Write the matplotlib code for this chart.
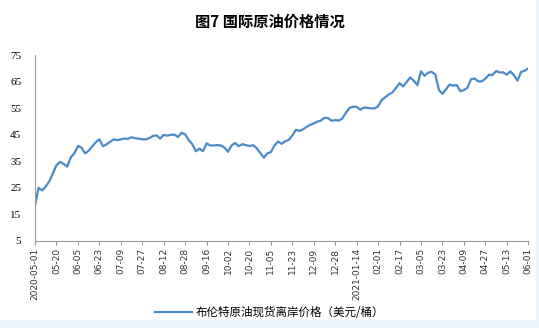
import numpy as np
import matplotlib.pyplot as plt
from matplotlib.patches import Rectangle

plt.rcParams['font.family'] = ['Noto Sans CJK SC', 'DejaVu Sans']

# tick labels (every 12 trading days)
tick_labels = ["2020-05-01", "05-20", "06-05", "06-23", "07-09", "07-27", "08-12",
               "08-28", "09-16", "10-02", "10-20", "11-05", "11-23", "12-09",
               "12-28", "2021-01-14", "02-01", "02-17", "03-05", "03-23", "04-09",
               "04-27", "05-13", "06-01"]

# Brent spot price, sampled every 2 trading days
brent = [
    18.5, 25.0, 24.0, 25.5, 27.5, 30.5,
    33.5, 34.8, 34.0, 33.0, 36.5, 38.0,
    40.8, 40.2, 38.0, 39.0, 40.6, 42.2,
    43.3, 40.7, 41.4, 42.4, 43.3, 43.0,
    43.3, 43.6, 43.5, 44.1, 43.7, 43.6,
    43.3, 43.3, 43.8, 44.6, 44.8, 43.6,
    45.0, 44.7, 45.0, 45.1, 44.2, 45.8,
    45.2, 43.0, 41.5, 38.8, 39.8, 38.8,
    41.8, 41.0, 41.0, 41.1, 41.0, 40.2,
    38.6, 41.0, 41.9, 40.7, 41.5, 41.1,
    40.8, 41.1, 40.0, 38.2, 36.4, 38.0,
    38.5, 41.0, 42.5, 41.6, 42.6, 43.1,
    44.8, 46.9, 46.5, 47.1, 48.0, 48.8,
    49.3, 50.0, 50.4, 51.5, 51.3, 50.3,
    50.6, 50.4, 51.2, 53.4, 55.2, 55.6,
    55.6, 54.5, 55.3, 55.2, 55.0, 55.0,
    55.8, 58.2, 59.2, 60.3, 61.0, 62.7,
    64.5, 63.3, 65.0, 66.7, 65.4, 63.8,
    69.0, 67.3, 68.5, 68.8, 67.8, 62.0,
    60.5, 62.2, 64.0, 63.6, 63.8, 61.5,
    61.9, 62.8, 66.0, 66.3, 65.2, 65.2,
    66.2, 67.7, 67.6, 69.1, 68.6, 68.6,
    67.7, 69.0, 67.5, 65.5, 68.8, 69.2,
    70.1,
]

x = np.arange(len(brent)) * 2
tick_pos = np.arange(len(tick_labels)) * 12

fig = plt.figure(figsize=(5.39, 3.28), dpi=100)
ax = fig.add_axes([0.065, 0.266, 0.915, 0.565])

ax.plot(x, brent, color="#4a8ac9", linewidth=1.6,
        label="布伦特原油现货离岸价格（美元/桶）")

ax.set_xlim(0, tick_pos[-1])
ax.set_ylim(5, 75)
ax.set_yticks(range(5, 80, 10))
ax.set_xticks(tick_pos)
ax.set_xticklabels(tick_labels, rotation=90, fontsize=6.5, color="#333333",
                   family="DejaVu Sans")
for lbl in ax.get_yticklabels():
    lbl.set_family("Liberation Serif")
    lbl.set_fontsize(8)

ax.tick_params(axis="y", length=0, pad=10)
ax.tick_params(axis="x", length=3, color="#999999", pad=2)
for s in ["top", "right"]:
    ax.spines[s].set_visible(False)
for s in ["left", "bottom"]:
    ax.spines[s].set_color("#999999")
    ax.spines[s].set_linewidth(0.8)

fig.text(0.5, 0.935, "图7 国际原油价格情况", ha="center", va="center",
         fontsize=11, fontweight="bold")

fig.legend(loc="center", bbox_to_anchor=(0.5, 0.048), frameon=False,
           fontsize=8.3, handlelength=3.2, handletextpad=0.3,
           borderpad=0, borderaxespad=0)

# light blue page border at right and bottom
fig.patches.append(Rectangle((536 / 539, 0), 1, 1, transform=fig.transFigure,
                             color="#eef6fd", zorder=-1))
fig.patches.append(Rectangle((0, 0), 1, 8 / 328, transform=fig.transFigure,
                             color="#eef6fd", zorder=-1))

fig.savefig("out.png", dpi=100)
